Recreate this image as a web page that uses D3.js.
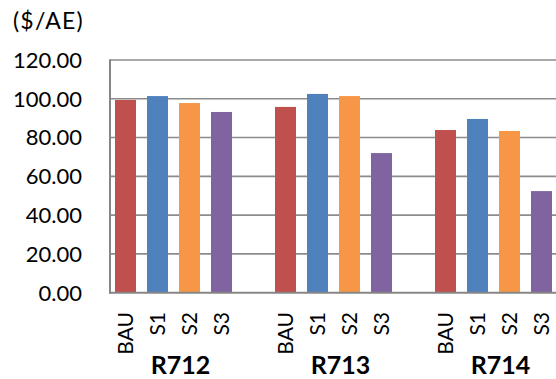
<!DOCTYPE html>
<html>
<head>
<meta charset="utf-8">
<script src="https://cdn.jsdelivr.net/npm/d3@7/dist/d3.min.js"></script>
<style>
  html, body { margin: 0; padding: 0; background: #fff; }
  svg { display: block; font-family: Lato, "Open Sans", sans-serif; }
</style>
</head>
<body>
<svg id="chart" width="556" height="379"></svg>
<script>
// Regions (category groups) and scenarios (series)
const regions = ["R712", "R713", "R714"];
const scenarios = ["BAU", "S1", "S2", "S3"];
const colors = ["#C0504D", "#4F81BD", "#F79646", "#8064A2"];

// Values in $/AE, one array per scenario, ordered by region
const bau = [99.4, 95.8, 83.9];
const s1 = [101.4, 102.5, 89.6];
const s2 = [97.8, 101.4, 83.4];
const s3 = [93.2, 72.0, 52.4];
const seriesValues = [bau, s1, s2, s3];

const yTicks = [0, 20, 40, 60, 80, 100, 120];
const unitLabel = "($/AE)";

const svg = d3.select("#chart");

// One slot per bar, with an empty slot between region groups
const slots = [];
regions.forEach((r, gi) => {
  scenarios.forEach(s => slots.push(r + "|" + s));
  if (gi < regions.length - 1) slots.push(r + "|gap");
});

const x = d3.scaleBand()
  .domain(slots)
  .range([109.5, 557.5])
  .paddingInner(0.34375)
  .paddingOuter(0.171875);

const y = d3.scaleLinear().domain([0, 120]).range([292.7, 60]);

// Horizontal gridlines
svg.append("g")
  .selectAll("line")
  .data(yTicks.filter(t => t > 0))
  .join("line")
  .attr("x1", 110).attr("x2", 560)
  .attr("y1", d => y(d)).attr("y2", d => y(d))
  .attr("stroke", "#8c8c8c")
  .attr("stroke-width", 1.6);

// Bars
const bars = [];
regions.forEach((r, gi) => {
  scenarios.forEach((s, si) => {
    bars.push({ key: r + "|" + s, value: seriesValues[si][gi], color: colors[si] });
  });
});

svg.append("g")
  .selectAll("rect")
  .data(bars)
  .join("rect")
  .attr("x", d => x(d.key))
  .attr("width", x.bandwidth())
  .attr("y", d => y(d.value))
  .attr("height", d => y(0) - y(d.value))
  .attr("fill", d => d.color);

// Axis lines
svg.append("line")
  .attr("x1", 110).attr("x2", 110)
  .attr("y1", y(120) - 0.8).attr("y2", y(0) + 1)
  .attr("stroke", "#868686").attr("stroke-width", 2);
svg.append("line")
  .attr("x1", 109).attr("x2", 560)
  .attr("y1", y(0)).attr("y2", y(0))
  .attr("stroke", "#868686").attr("stroke-width", 2);

// Y tick labels
svg.append("g")
  .selectAll("text")
  .data(yTicks)
  .join("text")
  .attr("x", 82)
  .attr("y", d => y(d))
  .attr("dy", "0.36em")
  .attr("text-anchor", "end")
  .attr("font-size", 22)
  .attr("fill", "#000")
  .text(d => d3.format(".2f")(d));

// Unit label
svg.append("text")
  .attr("x", 13).attr("y", 29)
  .attr("font-size", 23)
  .attr("letter-spacing", 1.2)
  .attr("fill", "#000")
  .text(unitLabel);

// Scenario labels, rotated
svg.append("g")
  .selectAll("text")
  .data(bars)
  .join("text")
  .attr("transform", d => `translate(${x(d.key) + x.bandwidth() / 2},312) rotate(-90)`)
  .attr("text-anchor", "end")
  .attr("dy", "0.36em")
  .attr("font-size", 21)
  .attr("fill", "#000")
  .text(d => d.key.split("|")[1]);

// Region labels
svg.append("g")
  .selectAll("text")
  .data(regions)
  .join("text")
  .attr("x", r => {
    const a = x(r + "|" + scenarios[0]);
    const b = x(r + "|" + scenarios[scenarios.length - 1]) + x.bandwidth();
    return (a + b) / 2 + 7;
  })
  .attr("y", 373.5)
  .attr("text-anchor", "middle")
  .attr("font-size", 25)
  .attr("font-weight", "bold")
  .attr("fill", "#000")
  .text(r => r);
</script>
</body>
</html>
